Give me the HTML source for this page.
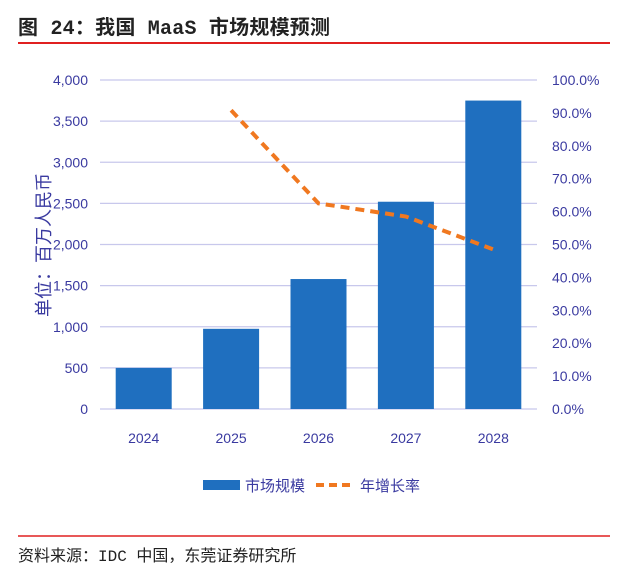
<!DOCTYPE html>
<html><head><meta charset="utf-8"><style>
body{margin:0;background:#fff;width:618px;height:582px;overflow:hidden;font-family:"Liberation Sans","Noto Sans CJK SC",sans-serif}
</style></head><body>
<svg id="c" width="618" height="582" xmlns="http://www.w3.org/2000/svg">
<text x="18" y="34" font-size="20" fill="#222" font-weight="bold" textLength="312" font-family="Liberation Mono,'Noto Sans CJK SC',monospace">图 24：我国 MaaS 市场规模预测</text>
<line x1="18" y1="43" x2="610" y2="43" stroke="#e02020" stroke-width="2"/>
<line x1="18" y1="536" x2="610" y2="536" stroke="#e02020" stroke-width="1.5"/>
<text x="18" y="561" font-size="16" fill="#222" font-family="Liberation Mono,'Noto Sans CJK SC',monospace">资料来源：IDC 中国，东莞证券研究所</text>
<text transform="translate(50,245) rotate(-90)" text-anchor="middle" font-size="18" fill="#3a3aa0">单位：百万人民币</text>
<g id="g"></g>
<rect x="203" y="480" width="37" height="10" fill="#1f6fbf"/>
<text x="245" y="491" font-size="15" fill="#3a3aa0">市场规模</text>
<line x1="316" y1="485" x2="354" y2="485" stroke="#f07820" stroke-width="4" stroke-dasharray="8,5"/>
<text x="360" y="491" font-size="15" fill="#3a3aa0">年增长率</text>
</svg>
<script>
const categories=["2024","2025","2026","2027","2028"];
const marketSize=[500,975,1580,2520,3750];
const growthRate=[null,90.8,62.5,58.5,48.5];
const leftTicks=[0,500,1000,1500,2000,2500,3000,3500,4000];
const rightTicks=[0,10,20,30,40,50,60,70,80,90,100];
const NS="http://www.w3.org/2000/svg";
const g=document.getElementById('g');
const x0=100,x1=537,y0=409,y1=80;
const yL=v=>y0-(v/4000)*(y0-y1);
const yR=v=>y0-(v/100)*(y0-y1);
const band=(x1-x0)/categories.length;
const xC=i=>x0+band*(i+0.5);
function el(t,a){const e=document.createElementNS(NS,t);for(const k in a)e.setAttribute(k,a[k]);g.appendChild(e);return e;}
leftTicks.forEach(v=>{
 const l=el('line',{x1:x0,x2:x1,y1:yL(v),y2:yL(v),stroke:'#c8c8ec','stroke-width':1.2});
 
 
 const t=el('text',{x:88,y:yL(v)+5,'text-anchor':'end','font-size':14,fill:'#3a3aa0'});
 t.textContent=v.toLocaleString('en-US');
 
 
});
rightTicks.forEach(v=>{
 const t=el('text',{x:552,y:yR(v)+5,'font-size':14,fill:'#3a3aa0'});
 t.textContent=v.toFixed(1)+'%';
 
 
});
categories.forEach((c,i)=>{
 const b=el('rect',{x:xC(i)-28,y:yL(marketSize[i]),width:56,height:y0-yL(marketSize[i]),fill:'#1f6fbf'});
 
 
 const t=el('text',{x:xC(i),y:443,'text-anchor':'middle','font-size':14,fill:'#3a3aa0'});
 t.textContent=c;
 
 
});
let pts=[];growthRate.forEach((v,i)=>{if(v!=null)pts.push(xC(i)+','+yR(v));});
const p=el('polyline',{points:pts.join(' '),fill:'none',stroke:'#f07820','stroke-width':4,'stroke-dasharray':'9,6'});


</script>
</body></html>
